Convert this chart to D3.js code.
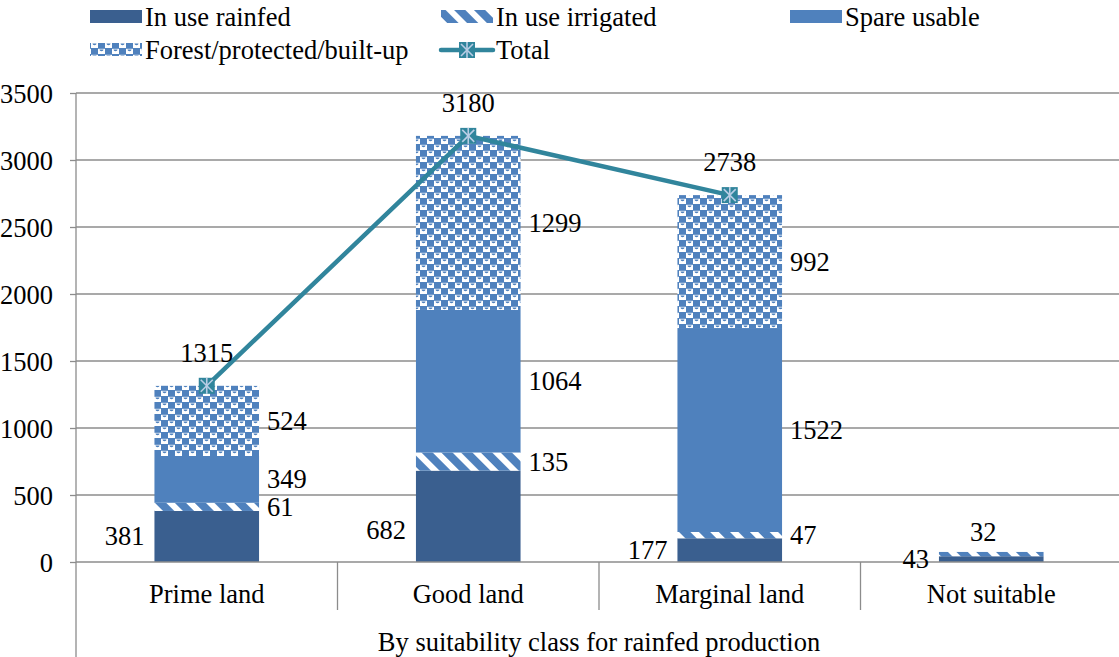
<!DOCTYPE html>
<html>
<head>
<meta charset="utf-8">
<script src="https://cdn.jsdelivr.net/npm/d3@7"></script>
<style>
  html, body { margin: 0; padding: 0; background: #fff; }
</style>
</head>
<body>
<svg id="chart" width="1119" height="657" style="font-family:'Liberation Serif','Times New Roman',serif"></svg>
<script>
// ---- data ----
const categories = ["Prime land", "Good land", "Marginal land", "Not suitable"];
const rainfed   = [381, 682, 177, 43];
const irrigated = [61, 135, 47, 32];
const spare     = [349, 1064, 1522, 0];
const forest    = [524, 1299, 992, 0];
const totals    = [1315, 3180, 2738, null];
const yTicks    = [0, 500, 1000, 1500, 2000, 2500, 3000, 3500];
const seriesNames = ["In use rainfed", "In use irrigated", "Spare usable", "Forest/protected/built-up", "Total"];
const axisTitle = "By suitability class for rainfed production";

(function () {
const FONT = "'Liberation Serif','Times New Roman',serif";
const svg = d3.select("#chart");
const FS = 26.5;
const plotL = 76, plotR = 1122, plotT = 93, plotB = 562;

const x = d3.scaleBand().domain(categories).range([plotL, plotR]).paddingInner(0).paddingOuter(0);
const y = d3.scaleLinear().domain([0, 3500]).range([plotB, plotT]);
const barW = x.bandwidth() * 0.4;

const C_RAIN = "#3A5F8F", C_BLUE = "#4F81BD", C_TEAL = "#31859C", C_MARK = "#B9CDE5", C_GRID = "#8c8c8c";

function txt(g) {
  return g.append("text").attr("font-family", FONT).style("font-family", FONT)
    .attr("font-size", FS).attr("fill", "#000");
}

// ---- patterns ----
const defs = svg.append("defs");
const hatch = defs.append("pattern").attr("id", "hatch").attr("patternUnits", "userSpaceOnUse")
  .attr("width", 14).attr("height", 14).attr("patternTransform", "rotate(-45)");
hatch.append("rect").attr("width", 14).attr("height", 14).attr("fill", C_BLUE);
hatch.append("rect").attr("x", 0).attr("width", 6).attr("height", 14).attr("fill", "#fff");

const conf = defs.append("pattern").attr("id", "forest").attr("patternUnits", "userSpaceOnUse")
  .attr("width", 14).attr("height", 12);
conf.append("rect").attr("width", 14).attr("height", 12).attr("fill", "#fff");
[[7, 0], [0, 6]].forEach(([px, py]) => {
  conf.append("rect").attr("x", px).attr("y", py).attr("width", 7).attr("height", 6).attr("fill", C_BLUE);
});
[[0, 0], [7, 6]].forEach(([px, py]) => {
  conf.append("path").attr("d", `M${px + 1.5},${py + 1.5} a2,1.8 0 0 0 4,0 z`).attr("fill", C_BLUE);
  conf.append("rect").attr("x", px).attr("y", py).attr("width", 7).attr("height", 0.8).attr("fill", C_BLUE);
});

// ---- gridlines & y axis ----
const yAxis = d3.axisLeft(y).tickValues(yTicks).tickSize(6).tickPadding(17).tickFormat(d3.format("d"));
const gy = svg.append("g").attr("transform", `translate(${plotL},0)`).call(yAxis)
  .attr("font-family", FONT).attr("font-size", FS);
gy.select(".domain").remove();
gy.selectAll("line").attr("stroke", C_GRID).attr("stroke-width", 1.3);
gy.selectAll("text").attr("font-size", FS).attr("dy", "0.34em").style("font-family", FONT).attr("fill", "#000");

svg.append("g").selectAll("line").data(yTicks.filter(d => d > 0)).join("line")
  .attr("x1", plotL).attr("x2", 1119).attr("y1", d => y(d)).attr("y2", d => y(d))
  .attr("stroke", C_GRID).attr("stroke-width", 1.3);

// ---- stacked bars ----
const rows = categories.map((c, i) => ({ cat: c, rainfed: rainfed[i], irrigated: irrigated[i], spare: spare[i], forest: forest[i] }));
const keys = ["rainfed", "irrigated", "spare", "forest"];
const fills = { rainfed: C_RAIN, irrigated: "url(#hatch)", spare: C_BLUE, forest: "url(#forest)" };
const stack = d3.stack().keys(keys)(rows);

const gBars = svg.append("g");
stack.forEach(layer => {
  gBars.append("g").selectAll("rect").data(layer).join("rect")
    .attr("x", d => x(d.data.cat) + (x.bandwidth() - barW) / 2)
    .attr("width", barW)
    .attr("y", d => y(d[1]))
    .attr("height", d => Math.max(0, y(d[0]) - y(d[1])))
    .attr("fill", fills[layer.key]);
});

// ---- x axis ----
svg.append("line").attr("x1", plotL).attr("x2", 1119).attr("y1", plotB).attr("y2", plotB)
  .attr("stroke", C_GRID).attr("stroke-width", 1.3);
svg.append("line").attr("x1", plotL).attr("x2", plotL).attr("y1", plotT).attr("y2", 657)
  .attr("stroke", C_GRID).attr("stroke-width", 1.3);
svg.append("g").selectAll("line").data(categories.slice(1)).join("line")
  .attr("x1", d => x(d)).attr("x2", d => x(d)).attr("y1", plotB).attr("y2", 610)
  .attr("stroke", C_GRID).attr("stroke-width", 1.3);
const gCat = svg.append("g");
categories.forEach(c => {
  txt(gCat).attr("x", x(c) + x.bandwidth() / 2).attr("y", 594).attr("dy", "0.34em")
    .attr("text-anchor", "middle").text(c);
});
txt(svg).attr("x", (plotL + plotR) / 2).attr("y", 642).attr("dy", "0.34em")
  .attr("text-anchor", "middle").text(axisTitle);

// ---- value labels ----
const gLab = svg.append("g");
stack.forEach((layer, li) => {
  layer.forEach((d) => {
    const v = d[1] - d[0];
    if (!v) return;
    const bx = x(d.data.cat) + (x.bandwidth() - barW) / 2;
    const mid = (y(d[0]) + y(d[1])) / 2;
    const isTop = keys.slice(li + 1).every(k => !d.data[k]);
    let tx, ty, anchor;
    if (layer.key === "rainfed") { tx = bx - 10; ty = Math.max(mid, y(0) - 32); anchor = "end"; }
    else if (isTop && y(d[0]) - y(d[1]) < 12) { tx = bx + barW / 2 - 8; ty = y(d[1]) - 20; anchor = "middle"; }
    else { tx = bx + barW + 8; ty = mid; anchor = "start"; }
    txt(gLab).attr("x", tx).attr("y", ty).attr("dy", "0.34em")
      .attr("text-anchor", anchor).text(v);
  });
});

// ---- total line ----
const tData = categories.map((c, i) => ({ cat: c, v: totals[i] })).filter(d => d.v != null);
const line = d3.line().x(d => x(d.cat) + x.bandwidth() / 2).y(d => y(d.v));
svg.append("path").datum(tData).attr("d", line).attr("fill", "none")
  .attr("stroke", C_TEAL).attr("stroke-width", 4.5).attr("stroke-linejoin", "round");

function marker(g, cx, cy) {
  const s = 8;
  g.append("rect").attr("x", cx - s).attr("y", cy - s).attr("width", 2 * s).attr("height", 2 * s).attr("fill", C_TEAL);
  const m = g.append("g").attr("stroke", C_MARK).attr("stroke-width", 1.6);
  m.append("line").attr("x1", cx - s + 2).attr("y1", cy - s + 2).attr("x2", cx + s - 2).attr("y2", cy + s - 2);
  m.append("line").attr("x1", cx + s - 2).attr("y1", cy - s + 2).attr("x2", cx - s + 2).attr("y2", cy + s - 2);
  m.append("line").attr("x1", cx).attr("y1", cy - s).attr("x2", cx).attr("y2", cy + s);
}
const gMark = svg.append("g");
tData.forEach(d => {
  const cx = x(d.cat) + x.bandwidth() / 2, cy = y(d.v);
  marker(gMark, cx, cy);
  txt(gMark).attr("x", cx).attr("y", cy - 33).attr("dy", "0.34em")
    .attr("text-anchor", "middle").text(d.v);
});

// ---- legend ----
const leg = svg.append("g");
const legItems = [
  { name: seriesNames[0], fill: C_RAIN, x: 90, y: 17 },
  { name: seriesNames[1], fill: "url(#hatch)", x: 441, y: 17 },
  { name: seriesNames[2], fill: C_BLUE, x: 790, y: 17 },
  { name: seriesNames[3], fill: "url(#forest)", x: 90, y: 50 },
  { name: seriesNames[4], line: true, x: 441, y: 50 }
];
legItems.forEach(it => {
  if (it.line) {
    leg.append("line").attr("x1", it.x).attr("x2", it.x + 52).attr("y1", it.y).attr("y2", it.y)
      .attr("stroke", C_TEAL).attr("stroke-width", 4.5).attr("stroke-linecap", "round");
    marker(leg, it.x + 26, it.y);
  } else {
    leg.append("rect").attr("x", it.x).attr("y", it.y - 7).attr("width", 52).attr("height", 13).attr("fill", it.fill);
  }
  txt(leg).attr("x", it.x + 55).attr("y", it.y).attr("dy", "0.34em").text(it.name);
});
})();
</script>
</body>
</html>
